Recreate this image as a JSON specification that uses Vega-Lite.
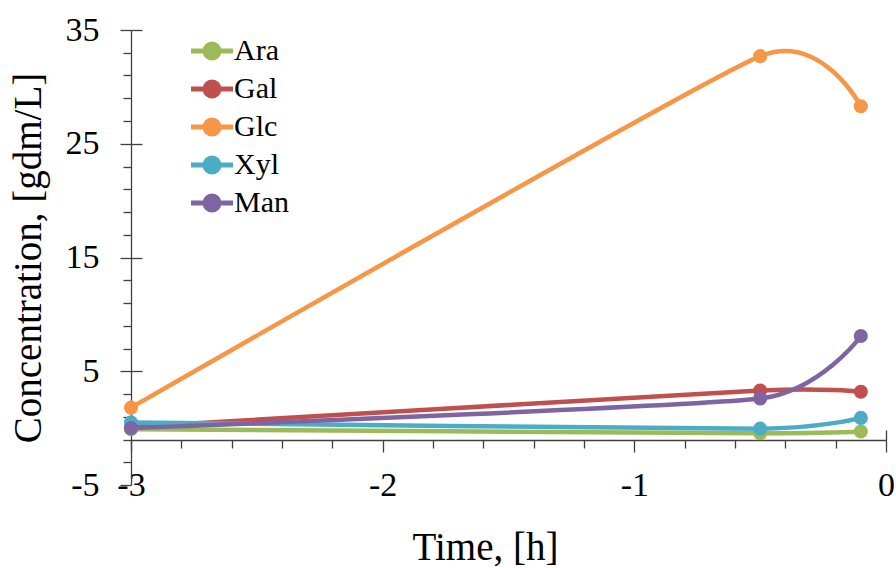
{
  "$schema": "https://vega.github.io/schema/vega-lite/v6.json",
  "width": 755,
  "height": 455,
  "autosize": "none",
  "padding": {"left": 131, "top": 30, "right": 10, "bottom": 83},
  "background": "white",
  "config": {
    "font": "Liberation Serif",
    "view": {"stroke": null},
    "axis": {"grid": false, "domainColor": "#404040", "tickColor": "#404040", "domainWidth": 1.3, "tickWidth": 1.3, "labelColor": "#000000", "titleColor": "#000000", "labelFont": "Liberation Serif", "titleFont": "Liberation Serif", "titleFontWeight": "normal"},
    "legend": {"labelFont": "Liberation Serif"}
  },
  "data": {
    "values": [
      {"t": -3, "c": -0.1, "s": "Ara"},
      {"t": -0.5, "c": -0.45, "s": "Ara"},
      {"t": -0.1, "c": -0.3, "s": "Ara"},
      {"t": -3, "c": 0.1, "s": "Gal"},
      {"t": -0.5, "c": 3.3, "s": "Gal"},
      {"t": -0.1, "c": 3.2, "s": "Gal"},
      {"t": -3, "c": 1.8, "s": "Glc"},
      {"t": -0.5, "c": 32.7, "s": "Glc"},
      {"t": -0.1, "c": 28.3, "s": "Glc"},
      {"t": -3, "c": 0.5, "s": "Xyl"},
      {"t": -0.5, "c": -0.05, "s": "Xyl"},
      {"t": -0.1, "c": 0.9, "s": "Xyl"},
      {"t": -3, "c": 0.0, "s": "Man"},
      {"t": -0.5, "c": 2.6, "s": "Man"},
      {"t": -0.1, "c": 8.1, "s": "Man"}
    ]
  },
  "resolve": {"axis": {"x": "independent", "y": "independent"}},
  "layer": [
    {
      "mark": {"type": "line", "interpolate": "cardinal", "tension": 0.5, "strokeWidth": 4.5},
      "encoding": {
        "x": {"field": "t", "type": "quantitative", "scale": {"domain": [-3, 0], "nice": false, "zero": false},
          "axis": {"orient": "bottom", "offset": -45, "values": [-3, -2, -1, 0], "labelExpr": "datum.value < 0 ? '-' + abs(datum.value) : '' + datum.value", "tickSize": 12, "labelPadding": 16, "labelFont": "Liberation Serif", "labelFontSize": 34, "labelFlush": false, "labelOverlap": false, "title": "Time, [h]", "titleFontSize": 39, "titleX": 354, "titleY": 88, "titleAlign": "center"}},
        "y": {"field": "c", "type": "quantitative", "scale": {"domain": [-5, 35], "nice": false, "zero": false},
          "axis": {"orient": "left", "values": [-5, 5, 15, 25, 35], "labelExpr": "datum.value < 0 ? '-' + abs(datum.value) : '' + datum.value", "tickSize": 11, "labelPadding": 21, "labelFont": "Liberation Serif", "labelFontSize": 34, "labelFlush": false, "labelOverlap": false, "title": "Concentration, [gdm/L]", "titleFontSize": 39, "titlePadding": 17}},
        "color": {"field": "s", "type": "nominal",
          "scale": {"domain": ["Ara", "Gal", "Glc", "Xyl", "Man"], "range": ["#9BBB59", "#C0504D", "#F79646", "#4BACC6", "#8064A2"]},
          "legend": {"orient": "none", "legendX": 66, "legendY": 6, "title": null, "padding": 0,
            "symbolType": "M-3,0L3,0M1,0A1,1 0 1,1 -1,0A1,1 0 1,1 1,0Z",
            "symbolSize": 196, "symbolStrokeWidth": 5, "symbolOpacity": 1,
            "labelFontSize": 30, "labelFont": "Liberation Serif", "labelColor": "#000000", "labelOffset": 7, "rowPadding": 4,
            "encode": {"symbols": {"update": {"fill": {"scale": "color", "field": "value"}, "stroke": {"scale": "color", "field": "value"}}}}}}
      }
    },
    {
      "mark": {"type": "circle", "size": 200, "opacity": 1},
      "encoding": {
        "x": {"field": "t", "type": "quantitative",
          "axis": {"orient": "bottom", "offset": -45, "values": [-2.8, -2.6, -2.4, -2.2, -1.8, -1.6, -1.4, -1.2, -0.8, -0.6, -0.4, -0.2], "tickSize": 8, "labels": false, "domain": false, "title": null}},
        "y": {"field": "c", "type": "quantitative",
          "axis": {"orient": "left", "values": [-3, -1, 1, 3, 7, 9, 11, 13, 17, 19, 21, 23, 27, 29, 31, 33], "tickSize": 8, "labels": false, "domain": false, "title": null}},
        "color": {"field": "s", "type": "nominal"}
      }
    },
    {
      "mark": {"type": "circle", "opacity": 0},
      "encoding": {
        "x": {"field": "t", "type": "quantitative",
          "axis": {"orient": "bottom", "offset": -45, "values": [0], "tickSize": -10, "labels": false, "domain": false, "title": null}},
        "y": {"field": "c", "type": "quantitative",
          "axis": {"orient": "left", "values": [5, 15, 25, 35], "tickSize": -11, "labels": false, "domain": false, "title": null}}
      }
    }
  ]
}
